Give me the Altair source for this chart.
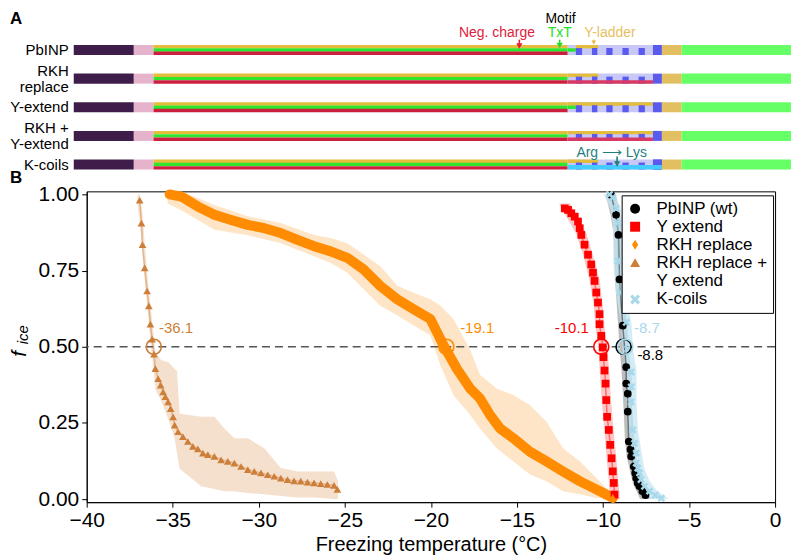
import altair as alt
import pandas as pd

FONT = "Liberation Sans"

# ====================== Panel A : construct diagrams ======================
LABEL_LINES = ["PbINP", "RKH", "replace", "Y-extend", "RKH +", "Y-extend", "K-coils"]
LABEL_ROW = [0, 0.72, 1.28, 2, 2.72, 3.28, 4]

# domain boundaries along the protein (residue-like positions)
COMMON_SEG = [  # (start, end, band, colour)
    (0, 67, "full", "#3f1d4a"),
    (67, 89, "full", "#e6b3cc"),
    (89, 551, "top", "#e3bd3c"),
    (89, 551, "mid", "#2ee62e"),
    (89, 551, "bot", "#cc1f40"),
    (551, 646, "full", "#c8c8f6"),
    (656, 678, "full", "#e2c062"),
    (678, 800, "full", "#66ff66"),
]
ROW_BEFORE = [
    [(560, 585, "top", "#e3bd3c"), (551, 560, "mid", "#2ee62e")],
    [(551, 585, "top", "#e3bd3c")],
    [(551, 646, "top", "#e3bd3c"), (551, 560, "mid", "#2ee62e")],
    [(551, 646, "top", "#e3bd3c")],
    [(551, 585, "top", "#e3bd3c")],
]
SQUARES = [(560, 567), (578, 584), (594, 601), (612, 619), (630, 637)]
ROW_AFTER = [
    [],
    [(551, 646, "bot", "#d83a64")],
    [],
    [(551, 646, "bot", "#d83a64")],
    [(646, 656, "full", "#5a5aee"), (551, 656, "cyan", "#44ccff")],
]
BANDS = {"full": (0, 1), "top": (0, 0.34), "mid": (0.33, 0.67),
         "bot": (0.66, 1), "low": (0.3, 1), "cyan": (0.55, 1)}
BAR_H = 0.35

ANN_TEXT = ["Motif", "Neg. charge", "TxT", "Y-ladder", "Arg \u27f6 Lys"]
ANN_P = [543, 472, 542, 598, 600]
ANN_R = [-1.09, -0.59, -0.59, -0.59, 3.58]
ANN_COLOR = ["#000000", "#e0203c", "#22dd22", "#e8c060", "#1f7f7f"]

ARROW_P = [497, 542, 580, 606]
ARROW_R0 = [-0.36, -0.36, -0.36, 3.72]
ARROW_R1 = [-0.14, -0.16, -0.26, 3.98]
ARROW_COLOR = ["#e0203c", "#22dd22", "#e8b84a", "#1f7f7f"]
ARROW_SIZE = [40, 40, 22, 40]

# ====================== Panel B : freezing curves ======================
SERIES = ["PbINP (wt)", "Y extend", "RKH replace", "RKH replace + Y extend", "K-coils"]
COLORS = ["#000000", "#ff0000", "#ff8c00", "#cd7f3a", "#a8d8ea"]
BAND_COLORS = ["#a8a8a8", "#ffb0b0", "#fddcb4", "#f2d6bd", "#c4e5f1"]
SHAPES = ["circle", "square", "M0,-1L0.62,0L0,1L-0.62,0Z", "triangle-up",
          "M-1,-0.55L-0.55,-1L0,-0.45L0.55,-1L1,-0.55L0.45,0L1,0.55L0.55,1L0,0.45L-0.55,1L-1,0.55L-0.45,0Z"]

wt_T = [-9.52, -9.24, -9.10, -9.04, -8.85, -8.65, -8.65, -8.56, -8.56, -8.50, -8.40, -8.36,
        -8.21, -8.13, -8.07, -7.98, -7.88, -7.71, -7.53]
wt_f = [0.998, 0.933, 0.867, 0.721, 0.569, 0.433, 0.379, 0.346, 0.287, 0.189, 0.163, 0.140,
        0.107, 0.086, 0.069, 0.053, 0.042, 0.026, 0.013]

ye_T = [-12.22, -12.03, -11.84, -11.64, -11.45, -11.35, -11.26, -11.07, -10.87, -10.68,
        -10.58, -10.49, -10.39, -10.29, -10.20, -10.20, -10.10, -10.01, -9.97, -9.91,
        -9.85, -9.81, -9.76, -9.66, -9.58, -9.50, -9.43, -9.37, -9.33]
ye_f = [0.954, 0.949, 0.938, 0.927, 0.911, 0.889, 0.867, 0.835, 0.802, 0.770,
        0.743, 0.716, 0.678, 0.645, 0.607, 0.574, 0.536, 0.498, 0.466, 0.422,
        0.379, 0.325, 0.270, 0.227, 0.178, 0.134, 0.091, 0.053, 0.015]

rkh_T = [-35.18, -34.50, -33.54, -32.58, -31.61, -30.64, -29.68, -28.72, -27.75, -26.79,
         -25.82, -24.86, -23.89, -22.93, -21.96, -21.00, -20.03, -19.26, -18.49, -17.72,
         -17.14, -16.56, -15.98, -15.21, -14.25, -13.28, -12.32, -11.35, -10.39, -9.81, -9.43]
rkh_f = [1.000, 0.993, 0.960, 0.933, 0.916, 0.900, 0.889, 0.873, 0.851, 0.830,
         0.813, 0.792, 0.753, 0.699, 0.656, 0.623, 0.591, 0.504, 0.428, 0.363,
         0.330, 0.276, 0.232, 0.200, 0.156, 0.124, 0.091, 0.059, 0.032, 0.015, 0.004]

rkhy_T = [-36.92, -36.82, -36.76, -36.63, -36.49, -36.39, -36.30, -36.20, -36.09, -36.01,
          -35.85, -35.70, -35.56, -35.43, -35.27, -35.12, -34.98, -34.89, -34.69, -34.41,
          -34.12, -33.83, -33.54, -33.25, -32.96, -32.58, -32.19, -31.80, -31.42, -31.03,
          -30.64, -30.26, -29.87, -29.48, -29.10, -28.72, -28.33, -27.95, -27.56, -27.17,
          -26.79, -26.40, -26.02, -25.63, -25.43]
rkhy_f = [0.981, 0.906, 0.835, 0.759, 0.683, 0.634, 0.574, 0.525, 0.476, 0.428,
          0.395, 0.374, 0.352, 0.336, 0.319, 0.297, 0.270, 0.243, 0.221, 0.205,
          0.189, 0.173, 0.165, 0.151, 0.146, 0.140, 0.129, 0.124, 0.118, 0.107,
          0.097, 0.091, 0.086, 0.080, 0.075, 0.069, 0.064, 0.060, 0.059, 0.056,
          0.053, 0.051, 0.048, 0.045, 0.032]

kc_T = [-9.62, -9.43, -9.23, -9.14, -9.14, -8.98, -8.65, -8.56, -8.36, -8.36, -8.36,
        -8.27, -8.17, -8.07, -8.07, -7.98, -7.88, -7.79, -7.59, -7.30, -6.96, -6.61]
kc_f = [1.000, 0.990, 0.954, 0.906, 0.781, 0.678, 0.580, 0.493, 0.417, 0.368, 0.319,
        0.227, 0.183, 0.151, 0.118, 0.102, 0.086, 0.064, 0.042, 0.026, 0.013, 0.003]

# uncertainty bands for the steep curves (temperature range at each fraction)
wt_band_f = [1.00, 0.93, 0.87, 0.72, 0.57, 0.50, 0.43, 0.35, 0.29, 0.19, 0.14, 0.09, 0.05, 0.02, 0.00]
wt_band_lo = [-9.85, -9.55, -9.38, -9.30, -9.12, -9.05, -8.93, -8.85, -8.80, -8.72, -8.62, -8.42, -8.25, -8.00, -7.85]
wt_band_hi = [-9.25, -9.00, -8.85, -8.78, -8.62, -8.55, -8.42, -8.35, -8.30, -8.22, -8.10, -7.88, -7.65, -7.40, -7.20]

ye_band_f = [0.97, 0.93, 0.87, 0.80, 0.72, 0.64, 0.57, 0.50, 0.42, 0.33, 0.23, 0.13, 0.05, 0.00]
ye_band_lo = [-12.55, -12.15, -11.55, -11.15, -10.78, -10.55, -10.44, -10.28, -10.18, -10.08, -9.93, -9.78, -9.65, -9.62]
ye_band_hi = [-11.90, -11.52, -10.95, -10.58, -10.20, -10.02, -9.92, -9.75, -9.64, -9.54, -9.39, -9.22, -9.09, -9.02]

kc_band_f = [1.00, 0.95, 0.90, 0.78, 0.68, 0.58, 0.49, 0.42, 0.32, 0.23, 0.15, 0.10, 0.06, 0.03, 0.00]
kc_band_lo = [-9.95, -9.55, -9.42, -9.40, -9.25, -8.95, -8.85, -8.65, -8.62, -8.55, -8.40, -8.28, -8.10, -7.80, -7.40]
kc_band_hi = [-9.30, -8.95, -8.85, -8.85, -8.70, -8.35, -8.25, -8.05, -8.05, -7.98, -7.75, -7.60, -7.30, -6.90, -6.20]

# uncertainty bands for the broad curves (fraction range at each temperature)
rkh_band_T = [-35.3, -34.5, -32.58, -30.64, -28.72, -26.79, -25.82, -24.86, -23.89, -22.93,
              -21.96, -21.00, -20.03, -19.45, -18.68, -17.72, -17.14, -16.18, -15.21, -14.25,
              -13.28, -12.32, -11.35, -10.39, -9.62, -9.3]
rkh_band_lo = [0.97, 0.948, 0.884, 0.866, 0.840, 0.797, 0.775, 0.743, 0.688, 0.634,
               0.603, 0.570, 0.537, 0.44, 0.34, 0.276, 0.231, 0.167, 0.124, 0.081,
               0.059, 0.026, 0.016, 0.004, 0.0, 0.0]
rkh_band_hi = [1.01, 1.01, 0.965, 0.928, 0.906, 0.867, 0.857, 0.840, 0.802, 0.764,
               0.700, 0.677, 0.656, 0.635, 0.59, 0.49, 0.407, 0.363, 0.342, 0.309,
               0.254, 0.167, 0.124, 0.069, 0.026, 0.01]

rkhy_band_T = [-37.05, -36.9, -36.75, -36.6, -36.45, -36.3, -36.15, -36.0, -35.66, -35.27,
               -34.89, -34.75, -34.6, -33.35, -32.58, -32.0, -31.42, -30.64, -29.68, -28.72,
               -27.75, -26.79, -25.63, -25.4]
rkhy_band_lo = [0.97, 0.90, 0.80, 0.70, 0.62, 0.52, 0.44, 0.36, 0.32, 0.264,
                0.20, 0.15, 0.10, 0.042, 0.033, 0.026, 0.026, 0.02, 0.016, 0.01,
                0.005, 0.005, 0.0, 0.0]
rkhy_band_hi = [1.0, 1.0, 0.93, 0.82, 0.72, 0.64, 0.56, 0.48, 0.456, 0.45,
                0.428, 0.42, 0.28, 0.27, 0.27, 0.232, 0.20, 0.20, 0.167, 0.102,
                0.091, 0.091, 0.091, 0.06]

T50 = [-8.8, -10.1, -19.1, -36.1, -8.7]
T50_LABEL = ["-8.8", "-10.1", "-19.1", "-36.1", "-8.7"]
LABEL_T = [-8.0, -12.8, -18.3, -35.8, -8.2]
LABEL_F = [0.472, 0.563, 0.563, 0.563, 0.563]

X_TICKS = [-40, -35, -30, -25, -20, -15, -10, -5, 0]
Y_TICKS = [0, 0.25, 0.5, 0.75, 1.0]

# ====================== build panel A ======================
rect_rows = []
for r in range(5):
    segs = COMMON_SEG[:6] + ROW_BEFORE[r] + [(a, b, "low", "#5a5aee") for a, b in SQUARES] \
        + [(646, 656, "full", "#5a5aee")] + COMMON_SEG[6:] + ROW_AFTER[r]
    for a, b, band, col in segs:
        f0, f1 = BANDS[band]
        rect_rows.append(dict(p0=a, p1=b, y0=r - BAR_H / 2 + f0 * BAR_H,
                              y1=r - BAR_H / 2 + f1 * BAR_H, c=col))
rect_df = pd.DataFrame(rect_rows)

xA = alt.Scale(domain=[14.44, 800], nice=False, zero=False)
yA = alt.Scale(domain=[-1.36, 4.275], nice=False, zero=False, reverse=True)

rectsA = alt.Chart(rect_df).mark_rect().encode(
    x=alt.X("p0:Q", scale=xA, axis=None), x2="p1:Q",
    y=alt.Y("y0:Q", scale=yA, axis=None), y2="y1:Q",
    color=alt.Color("c:N", scale=None),
)

lab_df = pd.DataFrame({"t": LABEL_LINES, "r": LABEL_ROW, "p": [-5.6] * len(LABEL_LINES)})
labelsA = alt.Chart(lab_df).mark_text(
    align="right", baseline="middle", font=FONT, fontSize=15, color="black"
).encode(x=alt.X("p:Q", scale=xA, axis=None), y=alt.Y("r:Q", scale=yA, axis=None), text="t:N")

ann_df = pd.DataFrame({"t": ANN_TEXT, "p": ANN_P, "r": ANN_R, "c": ANN_COLOR})
annA = alt.Chart(ann_df).mark_text(align="center", baseline="middle", font=FONT, fontSize=14).encode(
    x=alt.X("p:Q", scale=xA, axis=None), y=alt.Y("r:Q", scale=yA, axis=None),
    text="t:N", color=alt.Color("c:N", scale=None))

arr_df = pd.DataFrame({"p": ARROW_P, "r0": ARROW_R0, "r1": ARROW_R1, "c": ARROW_COLOR, "s": ARROW_SIZE})
arrow_lines = alt.Chart(arr_df).mark_rule(strokeWidth=1.6).encode(
    x=alt.X("p:Q", scale=xA, axis=None), y=alt.Y("r0:Q", scale=yA, axis=None), y2="r1:Q",
    color=alt.Color("c:N", scale=None))
arrow_heads = alt.Chart(arr_df).mark_point(shape="triangle-down", filled=True, opacity=1).encode(
    x=alt.X("p:Q", scale=xA, axis=None), y=alt.Y("r1:Q", scale=yA, axis=None),
    color=alt.Color("c:N", scale=None), size=alt.Size("s:Q", scale=None))

letterA = alt.Chart(pd.DataFrame({"t": ["A"]})).mark_text(
    align="left", baseline="top", font=FONT, fontSize=17, fontWeight="bold", color="black"
).encode(x=alt.value(-77), y=alt.value(0), text="t:N")

panelA = alt.layer(rectsA, labelsA, annA, arrow_lines, arrow_heads, letterA).properties(
    width=707, height=162, view=alt.ViewBackground(stroke="transparent"))

# ====================== build panel B ======================
all_T = [wt_T, ye_T, rkh_T, rkhy_T, kc_T]
all_f = [wt_f, ye_f, rkh_f, rkhy_f, kc_f]
pt_rows = []
for s, c, Ts, Fs in zip(SERIES, COLORS, all_T, all_f):
    for i, (t, f) in enumerate(zip(Ts, Fs)):
        pt_rows.append(dict(series=s, T=t, f=f, i=i, lc=c))
pts_df = pd.DataFrame(pt_rows)

hb_rows = []
for s, bc, F, L, H in [(SERIES[0], BAND_COLORS[0], wt_band_f, wt_band_lo, wt_band_hi),
                       (SERIES[1], BAND_COLORS[1], ye_band_f, ye_band_lo, ye_band_hi),
                       (SERIES[4], BAND_COLORS[4], kc_band_f, kc_band_lo, kc_band_hi)]:
    for f, lo, hi in zip(F, L, H):
        hb_rows.append(dict(series=s, f=f, lo=lo, hi=hi, bc=bc))
hb_df = pd.DataFrame(hb_rows)

vb_rows = []
for s, bc, T, L, H in [(SERIES[2], BAND_COLORS[2], rkh_band_T, rkh_band_lo, rkh_band_hi),
                       (SERIES[3], BAND_COLORS[3], rkhy_band_T, rkhy_band_lo, rkhy_band_hi)]:
    for t, lo, hi in zip(T, L, H):
        vb_rows.append(dict(series=s, T=t, lo=lo, hi=hi, bc=bc))
vb_df = pd.DataFrame(vb_rows)

xB = alt.Scale(domain=[-40, 0], nice=False, zero=False)
yB = alt.Scale(domain=[-0.01, 1.01], nice=False, zero=False)
x_axis = alt.Axis(values=X_TICKS, format="d", grid=False, tickSize=5, tickColor="black",
                  domainColor="black", labelFont=FONT, labelFontSize=21, labelColor="black",
                  titleFont=FONT, titleFontSize=20, titleColor="black", titleFontWeight="normal",
                  labelPadding=2, titlePadding=5, labelFlush=False)
y_axis = alt.Axis(values=Y_TICKS, format=".2f", grid=False, tickSize=5, tickColor="black",
                  domainColor="black", labelFont=FONT, labelFontSize=21, labelColor="black",
                  labelPadding=3, labelFlush=False)


def BX(field):
    return alt.X(field, type="quantitative", scale=xB, axis=x_axis, title="Freezing temperature (°C)")


def BY(field):
    return alt.Y(field, type="quantitative", scale=yB, axis=y_axis, title=None)


bands_h = alt.Chart(hb_df).mark_area(orient="horizontal", opacity=0.75, clip=True).encode(
    y=BY("f"), x=BX("lo"), x2="hi:Q", color=alt.Color("bc:N", scale=None), detail="series:N")
bands_v = alt.Chart(vb_df).mark_area(opacity=0.75, clip=True).encode(
    x=BX("T"), y=BY("lo"), y2="hi:Q", color=alt.Color("bc:N", scale=None), detail="series:N")

dash = alt.Chart(pd.DataFrame({"f": [0.5]})).mark_rule(
    strokeDash=[8, 5], color="#555555", strokeWidth=1.6).encode(y=BY("f"))

thin_lines = alt.Chart(pts_df).mark_line(strokeWidth=1.5, opacity=0.45).encode(
    x=BX("T"), y=BY("f"), color=alt.Color("lc:N", scale=None), detail="series:N", order="i:Q")

orange_line = alt.Chart(pts_df).transform_filter(alt.datum.series == "RKH replace").mark_line(
    strokeWidth=10, color="#ff8c00", strokeCap="round", strokeJoin="round").encode(
    x=BX("T"), y=BY("f"), order="i:Q")

legend = alt.Legend(title=None, orient="none", legendX=537, legendY=185, strokeColor="black",
                    fillColor="white", padding=5, cornerRadius=0, labelFont=FONT,
                    labelFontSize=17, labelColor="black", symbolSize=100, symbolStrokeWidth=0,
                    rowPadding=0, labelOffset=13, labelLimit=400, symbolOpacity=1,
                    labelExpr="datum.label == 'RKH replace + Y extend' ? ['RKH replace +', 'Y extend'] : datum.label")

points = alt.Chart(pts_df).mark_point(filled=True, size=60, opacity=1, strokeWidth=0).encode(
    x=BX("T"), y=BY("f"),
    color=alt.Color("series:N", scale=alt.Scale(domain=SERIES, range=COLORS), legend=legend),
    shape=alt.Shape("series:N", scale=alt.Scale(domain=SERIES, range=SHAPES), legend=legend),
    order="i:Q")

c50_df = pd.DataFrame({"T": T50, "f": [0.5] * 5, "c": COLORS, "t": T50_LABEL,
                       "lt": LABEL_T, "lf": LABEL_F})
circles = alt.Chart(c50_df).mark_point(shape="circle", filled=False, size=230, strokeWidth=1.6,
                                       opacity=1).encode(
    x=BX("T"), y=BY("f"), color=alt.Color("c:N", scale=None))
t50_text = alt.Chart(c50_df).mark_text(align="left", baseline="middle", font=FONT, fontSize=15).encode(
    x=BX("lt"), y=BY("lf"), text="t:N", color=alt.Color("c:N", scale=None))

letterB = alt.Chart(pd.DataFrame({"t": ["B"]})).mark_text(
    align="left", baseline="top", font=FONT, fontSize=17, fontWeight="bold", color="black"
).encode(x=alt.value(-77), y=alt.value(-21), text="t:N")
f_txt = alt.Chart(pd.DataFrame({"t": ["f"]})).mark_text(
    align="center", baseline="middle", font=FONT, fontSize=21, fontStyle="italic", angle=270,
    color="black").encode(x=alt.value(-67), y=alt.value(163), text="t:N")
ice_txt = alt.Chart(pd.DataFrame({"t": ["ice"]})).mark_text(
    align="center", baseline="middle", font=FONT, fontSize=15, fontStyle="italic", angle=270,
    color="black").encode(x=alt.value(-64), y=alt.value(144), text="t:N")

panelB = alt.layer(bands_h, bands_v, dash, thin_lines, orange_line, points, circles, t50_text,
                   letterB, f_txt, ice_txt).properties(
    width=691, height=312, view=alt.ViewBackground(stroke="black", strokeWidth=1))

chart = alt.vconcat(panelA, panelB, spacing=19, bounds="flush").properties(
    padding=0).configure_view(stroke="transparent")

chart.save("out.html", embed_options={"renderer": "svg", "actions": False})
